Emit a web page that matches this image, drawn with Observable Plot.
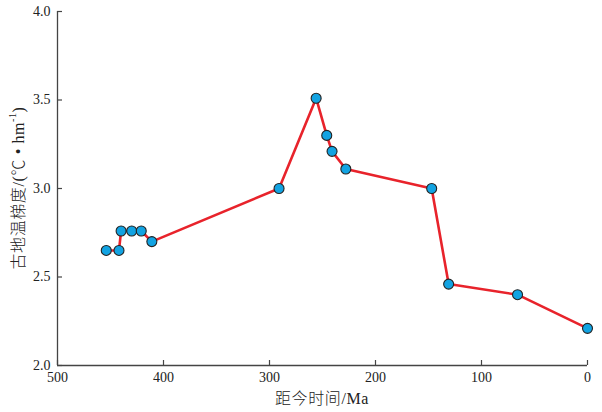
<!DOCTYPE html>
<html>
<head>
<meta charset="utf-8">
<script src="https://cdn.jsdelivr.net/npm/d3@7"></script>
<script src="https://cdn.jsdelivr.net/npm/@observablehq/plot@0.6"></script>
<style>
  html, body { margin: 0; padding: 0; background: #fff; }
  #chart svg { display: block; }
</style>
</head>
<body>
<div id="chart"></div>
<script>
const ages = [454, 442, 440, 430, 421, 411, 291, 256, 246, 241, 228, 147, 131, 66, 0];
const gradients = [2.65, 2.65, 2.76, 2.76, 2.76, 2.70, 3.00, 3.51, 3.30, 3.21, 3.11, 3.00, 2.46, 2.40, 2.21];
const xTicks = [500, 400, 300, 200, 100, 0];
const yTicks = [2.0, 2.5, 3.0, 3.5, 4.0];
const xLabel = "距今时间/Ma";
const yLabelMain = "古地温梯度/(℃ • hm";
const yLabelSup = "-1";
const yLabelEnd = ")";

const data = ages.map((a, i) => ({age: a, g: gradients[i]}));

const W = 602, H = 412;
const mL = 57, mR = 15, mT = 11, mB = 47;
const font = "'Liberation Serif', 'Times New Roman', 'Noto Sans CJK SC', serif";

const plot = Plot.plot({
  width: W,
  height: H,
  marginLeft: mL,
  marginRight: mR,
  marginTop: mT,
  marginBottom: mB,
  style: {fontFamily: font, fontSize: "14px", color: "#333", background: "#fff", overflow: "visible"},
  x: {domain: [500, 0], ticks: xTicks},
  y: {domain: [2.0, 4.0], ticks: yTicks},
  marks: [
    Plot.axisX(xTicks, {tickSize: -5, tickPadding: 12, tickFormat: d => String(d), label: null, stroke: "#444", strokeWidth: 1.2, fontSize: 14, fill: "#222"}),
    Plot.axisY(yTicks, {tickSize: -5, tickPadding: 12, tickFormat: d => d.toFixed(1), label: null, stroke: "#444", strokeWidth: 1.2, fontSize: 14, fill: "#222"}),
    Plot.ruleX([500], {stroke: "#444", strokeWidth: 1.3}),
    Plot.ruleY([2.0], {stroke: "#444", strokeWidth: 1.3}),
    Plot.line(data, {x: "age", y: "g", stroke: "#e8232b", strokeWidth: 2.6}),
    Plot.dot(data, {x: "age", y: "g", r: 5, fill: "#12a3e2", stroke: "#222", strokeWidth: 1.1})
  ]
});

const svg = d3.select(plot);
const cx = mL + (W - mL - mR) / 2;
const cy = mT + (H - mT - mB) / 2;

svg.append("text")
  .attr("x", cx)
  .attr("y", 400)
  .attr("text-anchor", "middle")
  .attr("dominant-baseline", "middle")
  .attr("font-family", font)
  .attr("font-size", 16)
  .attr("font-weight", 300)
  .attr("letter-spacing", 0.6)
  .attr("fill", "#222")
  .text(xLabel);

const yl = svg.append("text")
  .attr("transform", `translate(20,${cy}) rotate(-90)`)
  .attr("text-anchor", "middle")
  .attr("dominant-baseline", "middle")
  .attr("font-family", font)
  .attr("font-size", 16)
  .attr("font-weight", 300)
  .attr("letter-spacing", 0.6)
  .attr("fill", "#222");
yl.append("tspan").text(yLabelMain);
yl.append("tspan").attr("dy", -6).attr("font-size", 10).text(yLabelSup);
yl.append("tspan").attr("dy", 6).text(yLabelEnd);

document.getElementById("chart").appendChild(plot);
</script>
</body>
</html>
